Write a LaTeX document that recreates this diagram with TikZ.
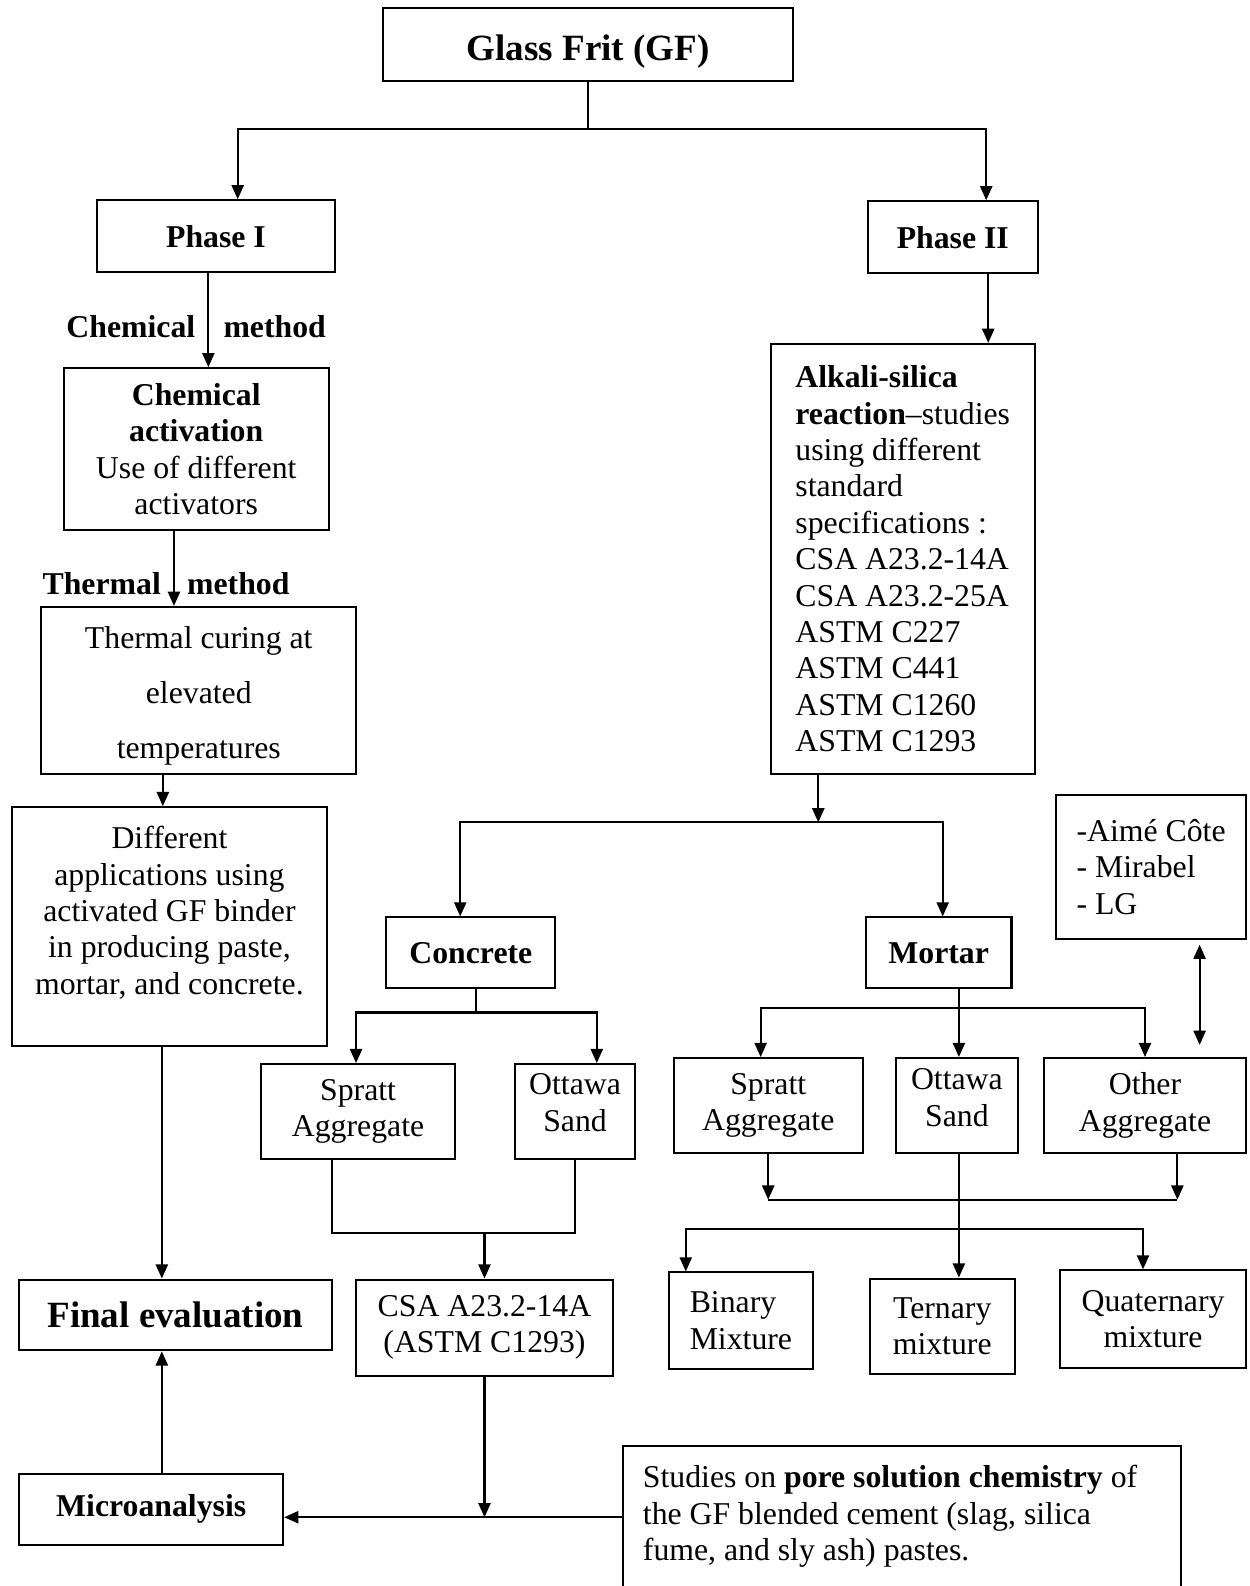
\documentclass[tikz,border=0pt]{standalone}
\usepackage{fontspec}
\setmainfont{Liberation Serif}
\usetikzlibrary{positioning,arrows.meta,calc}
\newcommand\boxfont{\fontsize{15.7pt}{18pt}\selectfont}
\newcommand\headfont{\fontsize{18.3pt}{21pt}\selectfont\bfseries}

\begin{document}
\begin{tikzpicture}[x=0.5pt,y=-0.5pt,>={Triangle[length=7pt,width=6pt]},line width=1pt,
  stage/.style={draw,inner sep=0pt,font=\boxfont,align=center},
  tag/.style={font=\boxfont\bfseries,inner sep=6pt}]
\clip (0,0) rectangle (1235,1568);
\node[stage,font=\headfont,minimum width=202.5pt,minimum height=36pt] (gf) at (581.5,44) {Glass Frit (GF)\\[-24pt]};
\node[stage,font=\boxfont\bfseries,minimum width=117.5pt,minimum height=35.5pt] (ph1) at (213.5,233.5) {Phase I};
\node[stage,font=\boxfont\bfseries,minimum width=84pt,minimum height=35.5pt] (ph2) at (942,234.5) {Phase II};
\node[stage,minimum width=131pt,minimum height=80pt] (chem) at (194,444) {\textbf{Chemical}\\\textbf{activation}\\Use of different\\activators};
\node[stage,font=\fontsize{15.7pt}{27pt}\selectfont,minimum width=155.5pt,minimum height=82.5pt] (therm) at (196.5,682.5) {Thermal curing at\\elevated\\temperatures\\[-29pt]};
\node[stage,minimum width=155.5pt,minimum height=118pt] (appl) at (167.5,916) {Different\\applications using\\activated GF binder\\in producing paste,\\mortar, and concrete.\\[-2pt]};
\node[stage,font=\headfont,minimum width=154.5pt,minimum height=35pt] (final) at (173.5,1300) {Final evaluation};
\node[stage,font=\boxfont\bfseries,minimum width=130.5pt,minimum height=35pt] (micro) at (149.5,1492) {Microanalysis};

\node[stage,align=left,minimum width=130.5pt,minimum height=212.5pt] (asr) at (892.5,552.5) {\textbf{Alkali-silica}\\\textbf{reaction}--studies\hspace*{9pt}\\using different\\standard\\specifications :\\CSA A23.2-14A\\CSA A23.2-25A\\ASTM C227\\ASTM C441\\ASTM C1260\\ASTM C1293};
\node[stage,font=\boxfont\bfseries,minimum width=83.5pt,minimum height=35pt] (conc) at (465.5,942) {Concrete};
\node[stage,font=\boxfont\bfseries,minimum width=72pt,minimum height=35pt] (mort) at (928,942) {Mortar};
\node[stage,align=left,minimum width=94pt,minimum height=71pt] (sites) at (1138,857) {-Aimé Côte\\- Mirabel\\- LG};

\node[stage,minimum width=96pt,minimum height=47pt] (cspr) at (354,1099) {Spratt\\Aggregate};
\node[stage,minimum width=59.5pt,minimum height=47pt] (cott) at (568.5,1099) {Ottawa\\Sand\\[-9pt]};
\node[stage,minimum width=93.5pt,minimum height=47pt] (mspr) at (759.5,1093) {Spratt\\Aggregate};
\node[stage,minimum width=60pt,minimum height=47pt] (mott) at (946,1093) {Ottawa\\Sand\\[-10pt]};
\node[stage,minimum width=100pt,minimum height=47pt] (moth) at (1132,1093) {Other\\Aggregate};

\node[stage,minimum width=127pt,minimum height=47.5pt] (csa) at (479,1312.5) {CSA A23.2-14A\\(ASTM C1293)};
\node[stage,align=left,minimum width=71.5pt,minimum height=47.5pt] (bin) at (732.5,1305.5) {Binary\\Mixture};
\node[stage,minimum width=71.5pt,minimum height=47pt] (ter) at (931.5,1311) {Ternary\\mixture};
\node[stage,minimum width=92pt,minimum height=48pt] (quat) at (1140,1304) {Quaternary\\mixture};
\node[stage,align=left,minimum width=276pt,minimum height=80pt] (pore) at (892,1510) {Studies on \textbf{pore solution chemistry} of\hspace*{12pt}\\the GF blended cement (slag, silica\\fume, and sly ash) pastes.\\[-4pt]};

% phase split
\draw (gf.south) -- ++(0,47) coordinate (gfsplit);
\draw[->] (gfsplit) -| ([xshift=10.75pt]ph1.north);
\draw[->] (gfsplit) -| ([xshift=16.5pt]ph2.north);

% phase I
\draw[->] ([xshift=-3.75pt]ph1.south) -- ([xshift=-3.75pt]ph1.south |- chem.north)
  node[tag,midway,left,yshift=-3.25pt] (chemtag) {Chemical}
  node[tag,midway,right,yshift=-3.25pt,xshift=1pt] (chemmeth) {method};
\draw[->] ([xshift=-11pt]chem.south) -- ([xshift=-11pt]chem.south |- therm.north)
  node[tag,pos=0.7,left] (thermtag) {Thermal}
  node[tag,pos=0.7,right] (thermmeth) {method};
\draw[->] ([xshift=-3.25pt]appl.north |- therm.south) -- ([xshift=-3.25pt]appl.north);
\draw[->] ([xshift=-3.75pt]appl.south) -- ([xshift=-3.75pt]appl.south |- final.north);
\draw[->] ([xshift=5.25pt]micro.north) -- ([xshift=5.25pt]micro.north |- final.south);

% phase II
\draw[->] ([xshift=17.5pt]ph2.south) -- ([xshift=17.5pt]ph2.south |- asr.north);
\draw[->] ([xshift=-41.75pt]asr.south) -- ++(0,47) coordinate (asrsplit);
\draw[->] (asrsplit) -| ([xshift=-5.25pt]conc.north);
\draw[->] (asrsplit) -| ([xshift=2pt]mort.north);

% concrete
\draw ([xshift=2.75pt]conc.south) -- ++(0,23) coordinate (concsplit);
\draw[->] (concsplit) -| ([xshift=-1pt]cspr.north);
\draw[->] (concsplit) -| ([xshift=10.75pt]cott.north);
\draw ([xshift=-13pt]cspr.south) -- ++(0,72) -| (cott.south);
\draw[->] (csa.north |- 0,1218) -- (csa.north);
\draw[->] (csa.south) -- (csa.south |- 0,1500);
\draw[->] (pore.west |- 0,1500) -- (micro.east |- 0,1500);

% mortar
\draw[->] ([xshift=10pt]mort.south) -- ([xshift=10pt]mort.south |- mott.north);
\coordinate (mortsplit) at ([xshift=10pt,yshift=-9.5pt]mort.south);
\draw[->] (mortsplit) -| ([xshift=-3.75pt]mspr.north);
\draw[->] (mortsplit) -| (moth.north);
\draw[<->,shorten <=2.5pt,shorten >=6pt] ([xshift=24pt]sites.south) -- ([xshift=24pt]sites.south |- moth.north);
\draw[->] (mspr.south) -- ++(0,45) coordinate (mlow);
\draw[->] ([xshift=16pt]moth.south) -- ++(0,45) coordinate (mhigh);
\draw (mlow) -- (mhigh);
\draw[->] ([xshift=1pt]mott.south) -- ([xshift=1pt]mott.south |- ter.north);
\coordinate (mixsplit) at ([xshift=1pt]mott.south |- 0,1215);
\draw[->] (mixsplit) -| ([xshift=-27.25pt]bin.north);
\draw[->] (mixsplit) -| ([xshift=-5pt]quat.north);
\end{tikzpicture}
\end{document}
